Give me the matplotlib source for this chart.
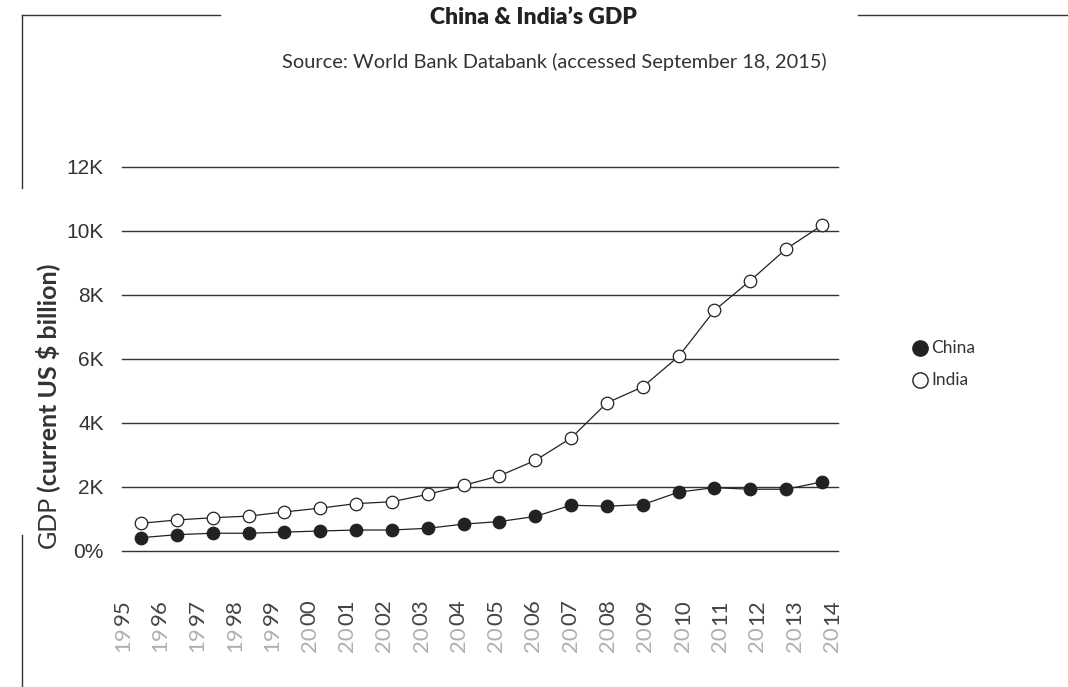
import matplotlib
matplotlib.use("Agg")
import matplotlib.pyplot as plt
from matplotlib.transforms import blended_transform_factory

years = list(range(1995, 2015))
china = [416, 510, 555, 555, 590, 625, 656, 656, 710, 840,
         920, 1080, 1430, 1400, 1450, 1840, 1980, 1930, 1930, 2160]
india = [865, 970, 1040, 1090, 1220, 1340, 1480, 1540, 1770, 2050,
         2350, 2830, 3530, 4630, 5130, 6080, 7520, 8450, 9440, 10180]
y_ticks = [0, 2000, 4000, 6000, 8000, 10000, 12000]
y_tick_labels = ["0%", "2K", "4K", "6K", "8K", "10K", "12K"]

INK = "#222222"
TXT = "#333333"
W, H = 1068, 687
fig = plt.figure(figsize=(W / 100, H / 100), dpi=100)
ax = fig.add_axes([122 / W, 1 - 551 / H, 716 / W, 384 / H])
renderer = fig.canvas.get_renderer()

# data x range: first point at 141 px, step ~35.84 px
step_px = (822 - 141) / 19
x0 = 1995 + (122 - 141) / step_px
x1 = 1995 + (838 - 141) / step_px
ax.set_xlim(x0, x1)
ax.set_ylim(0, 12000)

for yv in y_ticks:
    ax.axhline(yv, color="#333333", lw=1.0, clip_on=False, zorder=1)

ax.plot(years, india, color=INK, lw=0.9, marker="o", ms=9,
        mfc="white", mec=INK, mew=0.9, zorder=3)
ax.plot(years, china, color=INK, lw=0.9, marker="o", ms=9,
        mfc=INK, mec=INK, mew=0.9, zorder=3)

for s in ax.spines.values():
    s.set_visible(False)
ax.set_xticks([])
ax.set_yticks(y_ticks)
ax.set_yticklabels(y_tick_labels, fontsize=15, color=TXT,
                   family=["Liberation Sans", "DejaVu Sans"])
ax.tick_params(axis="y", length=0, pad=13)

# year labels: century part light grey, last two digits dark
tr = blended_transform_factory(ax.transData, fig.transFigure)
for i, yr in enumerate(years):
    px = 123 + i * (832 - 123) / 19
    xd = 1995 + (px - 141) / step_px
    s = str(yr)
    t1 = ax.text(xd, 1 - 652 / H, s[:2], transform=tr, rotation=90,
                 ha="center", va="bottom", fontsize=16, color="#b0b0b0",
                 family="Lato")
    bb = t1.get_window_extent(renderer)
    ax.text(xd, (bb.y1 + 1) / (H), s[2:], transform=tr, rotation=90,
            ha="center", va="bottom", fontsize=16, color="#444444",
            family="Lato")

# title and source
fig.text(533 / W, 1 - 18 / H, "China & India\u2019s GDP", ha="center", va="center",
         fontsize=16.5, fontweight="heavy", family="Lato", color=INK)
fig.text(554 / W, 1 - 62 / H,
         "Source: World Bank Databank (accessed September 18, 2015)",
         ha="center", va="center", fontsize=14.4, family="Lato", color=TXT)

# y axis label: plain "GDP" and bold unit part
yl1 = fig.text(48 / W, 1 - 548 / H, "GDP", rotation=90, ha="center",
               va="bottom", fontsize=18, family="Lato", color=TXT)
bb = yl1.get_window_extent(renderer)
fig.text(48 / W, (bb.y1 + 4) / H, "(current US $ billion)", rotation=90,
         ha="center", va="bottom", fontsize=18, family="Lato",
         fontweight="bold", color=TXT)

# frame strokes
line_kw = dict(color="#333333", lw=1.0, transform=fig.transFigure)
fig.add_artist(plt.Line2D([22 / W, 22 / W], [1 - 15 / H, 1 - 188 / H], **line_kw))
fig.add_artist(plt.Line2D([22 / W, 22 / W], [1 - 535 / H, 0], **line_kw))
fig.add_artist(plt.Line2D([22 / W, 220 / W], [1 - 15 / H, 1 - 15 / H], **line_kw))
fig.add_artist(plt.Line2D([858 / W, 1], [1 - 15 / H, 1 - 15 / H], **line_kw))

# legend
fig.add_artist(plt.Line2D([920 / W], [1 - 348 / H], marker="o", ms=11,
                          mfc=INK, mec=INK, transform=fig.transFigure))
fig.add_artist(plt.Line2D([920 / W], [1 - 380 / H], marker="o", ms=11,
                          mfc="white", mec=INK, mew=1.0, transform=fig.transFigure))
fig.text(931 / W, 1 - 348 / H, "China", va="center", ha="left",
         fontsize=12.5, family="Lato", color=TXT)
fig.text(931 / W, 1 - 380 / H, "India", va="center", ha="left",
         fontsize=12.5, family="Lato", color=TXT)

fig.savefig("out.png", dpi=100, facecolor="white")
